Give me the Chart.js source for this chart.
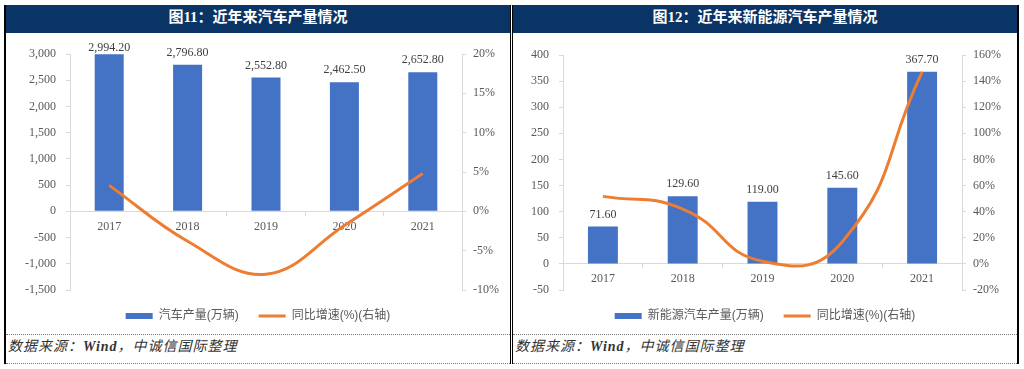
<!DOCTYPE html>
<html>
<head>
<meta charset="utf-8">
<script src="https://cdn.jsdelivr.net/npm/chart.js@4.4.0/dist/chart.umd.min.js"></script>
<style>
  body { margin: 0; width: 1024px; height: 369px; background: #fff; overflow: hidden; position: relative; }
  .panel { position: absolute; top: 5px; width: 507px; height: 359px; box-sizing: border-box; }
  #p1 { left: 4px; border-left: 2px solid #000; border-right: 1px solid #000; }
  #p2 { left: 512px; border-left: 1px solid #000; border-right: 2px solid #000; }
  .title { height: 28px; background: #0b3466; color: #fff; text-align: center; line-height: 28px;
           font: bold 15px "Liberation Serif", "Noto Sans CJK SC", serif; }
  canvas { display: block; }
  .foot { height: 28px; border-top: 1px dotted #777; border-bottom: 1px dotted #777; line-height: 28px;
          padding-left: 2px; color: #333; letter-spacing: 1px;
          font: italic 14px "Liberation Serif", "Noto Sans CJK SC", serif; }
</style>
</head>
<body>
<div class="panel" id="p1">
  <div class="title">图11：近年来汽车产量情况</div>
  <canvas id="c1" width="504" height="301"></canvas>
  <div class="foot">数据来源：<b>Wind</b>，中诚信国际整理</div>
</div>
<div class="panel" id="p2">
  <div class="title">图12：近年来新能源汽车产量情况</div>
  <canvas id="c2" width="504" height="301"></canvas>
  <div class="foot">数据来源：<b>Wind</b>，中诚信国际整理</div>
</div>
<script>
// Data
const years = ['2017', '2018', '2019', '2020', '2021'];

const autoOutput = [2994.2, 2796.8, 2552.8, 2462.5, 2652.8];
const autoGrowth = [3.3, -3.8, -8.0, -1.8, 4.8];

const nevOutput = [71.6, 129.6, 119.0, 145.6, 367.7];
const nevGrowth = [51.7, 42, 2, 17, 147];

const BLUE = '#4472C4';
const ORANGE = '#ED7D31';
const GRAY_TEXT = '#595959';
const AXIS = '#d9d9d9';
const SERIF = '"Liberation Serif", "Times New Roman", serif';
const SANS = '"Liberation Sans", "Noto Sans CJK SC", sans-serif';

const fmtInt = v => v.toLocaleString('en-US');
const fmt2 = v => v.toLocaleString('en-US', { minimumFractionDigits: 2, maximumFractionDigits: 2 });

// value labels above the bars
const barLabels = {
  id: 'barLabels',
  afterDatasetsDraw(chart) {
    const ctx = chart.ctx;
    const meta = chart.getDatasetMeta(0);
    const values = chart.data.datasets[0].data;
    ctx.save();
    ctx.font = '12px ' + SERIF;
    ctx.fillStyle = '#404040';
    ctx.textAlign = 'center';
    ctx.textBaseline = 'middle';
    meta.data.forEach((bar, i) => {
      const y = Math.max(bar.y - 12, chart.chartArea.top - 6);
      ctx.fillText(fmt2(values[i]), bar.x, y);
    });
    ctx.restore();
  }
};

function makeChart(id, cfg) {
  const ctx = document.getElementById(id).getContext('2d');
  return new Chart(ctx, {
    type: 'bar',
    data: {
      labels: years,
      datasets: [{
        label: cfg.barLabel,
        data: cfg.bars,
        backgroundColor: BLUE,
        yAxisID: 'y',
        order: 2,
        categoryPercentage: 1,
        barPercentage: cfg.barPct
      }, {
        type: 'line',
        label: '同比增速(%)(右轴)',
        data: cfg.line,
        borderColor: ORANGE,
        borderWidth: 3,
        pointRadius: 0,
        tension: cfg.tension,
        yAxisID: 'y1',
        order: 1
      }]
    },
    options: {
      responsive: false,
      devicePixelRatio: 1,
      animation: false,
      layout: { padding: { top: cfg.top, bottom: 2, left: 0, right: 0 } },
      plugins: {
        tooltip: { enabled: false },
        legend: {
          position: 'bottom',
          labels: {
            usePointStyle: true,
            pointStyleWidth: 27,
            boxHeight: 6,
            padding: 20,
            color: GRAY_TEXT,
            font: { family: SANS, size: 12 },
            generateLabels: () => [
              { text: cfg.barLabel, pointStyle: 'rect', fillStyle: BLUE, strokeStyle: BLUE, lineWidth: 0, fontColor: GRAY_TEXT },
              { text: '同比增速(%)(右轴)', pointStyle: 'line', fillStyle: ORANGE, strokeStyle: ORANGE, lineWidth: 3, fontColor: GRAY_TEXT }
            ]
          }
        }
      },
      scales: {
        x: {
          position: { y: 0 },
          grid: { drawOnChartArea: false, drawTicks: true, tickLength: 4, color: AXIS },
          border: { color: AXIS },
          ticks: { color: GRAY_TEXT, font: { family: SERIF, size: 12 }, padding: 4 }
        },
        y: {
          position: 'left',
          min: cfg.yMin, max: cfg.yMax,
          afterFit: s => { s.width = cfg.leftW; },
          grid: { drawOnChartArea: false, tickLength: 4, color: AXIS },
          border: { color: AXIS },
          ticks: { stepSize: cfg.yStep, color: GRAY_TEXT, font: { family: SERIF, size: 12 }, padding: 10,
                   callback: v => fmtInt(v) }
        },
        y1: {
          position: 'right',
          min: cfg.rMin, max: cfg.rMax,
          afterFit: s => { s.width = cfg.rightW; },
          grid: { drawOnChartArea: false, tickLength: 4, color: AXIS },
          border: { color: AXIS },
          ticks: { stepSize: cfg.rStep, color: GRAY_TEXT, font: { family: SERIF, size: 12 }, padding: 7,
                   callback: v => v + '%' }
        }
      }
    },
    plugins: [barLabels]
  });
}

makeChart('c1', {
  barLabel: '汽车产量(万辆)',
  bars: autoOutput, line: autoGrowth,
  yMin: -1500, yMax: 3000, yStep: 500,
  rMin: -10, rMax: 20, rStep: 5,
  leftW: 64, rightW: 48, top: 21, barPct: 0.37, tension: 0.4
});

makeChart('c2', {
  barLabel: '新能源汽车产量(万辆)',
  bars: nevOutput, line: nevGrowth,
  yMin: -50, yMax: 400, yStep: 50,
  rMin: -20, rMax: 160, rStep: 20,
  leftW: 50, rightW: 55, top: 22, barPct: 0.375, tension: 0.5
});
</script>
</body>
</html>
